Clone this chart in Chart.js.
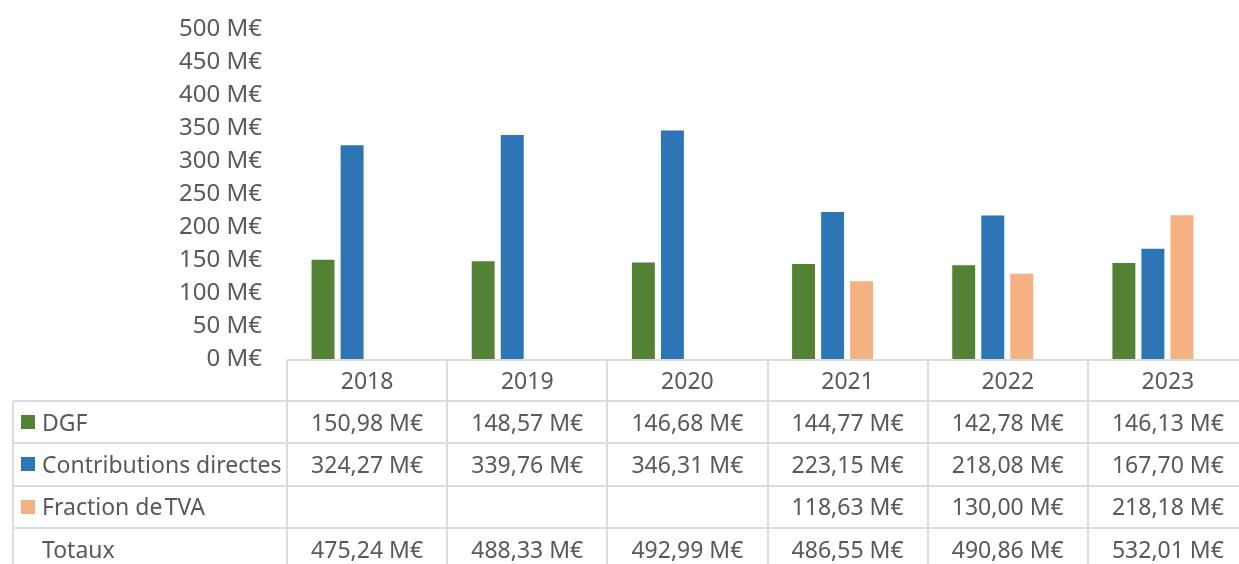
<!DOCTYPE html>
<html lang="fr">
<head>
<meta charset="utf-8">
<script src="https://cdn.jsdelivr.net/npm/chart.js@4.4.1/dist/chart.umd.min.js"></script>
<style>
  html, body { margin: 0; padding: 0; background: #fff; overflow: hidden; }
  body { width: 1239px; height: 564px; position: relative; font-family: "Noto Sans", sans-serif; color: #595959; }
  #chartBox { position: absolute; left: 0; top: 0; width: 1239px; height: 384px; }
  #dataTable { position: absolute; left: 0; top: 0; }
  .cell {
    position: absolute; box-sizing: border-box; font-size: 23px; line-height: 1;
    display: flex; align-items: center; justify-content: center; white-space: nowrap;
  }
  .cell.name { justify-content: flex-start; padding-left: 29px; }
  .key { position: absolute; left: 8px; width: 14px; height: 14px; top: 50%; margin-top: -7px; }
  .hline { position: absolute; height: 2px; background: #dcdcdc; }
  .vline { position: absolute; width: 2px; background: #dcdcdc; }
</style>
</head>
<body>
<div id="chartBox"><canvas id="recettesChart"></canvas></div>
<div id="dataTable"></div>

<script>
// données (M€)
const annees = ["2018", "2019", "2020", "2021", "2022", "2023"];
const dgf = [150.98, 148.57, 146.68, 144.77, 142.78, 146.13];
const contributions = [324.27, 339.76, 346.31, 223.15, 218.08, 167.70];
const fractionTva = [null, null, null, 118.63, 130.00, 218.18];
const totaux = [475.24, 488.33, 492.99, 486.55, 490.86, 532.01];
const seriesNoms = ["DGF", "Contributions directes", "Fraction de\u200ATVA"];
const couleurs = ["#548235", "#2E75B6", "#F4B183"];
const graduations = [0, 50, 100, 150, 200, 250, 300, 350, 400, 450, 500];

const police = "'Noto Sans', sans-serif";

function formatME(v) {
  return v.toFixed(2).replace(".", ",") + " M€";
}

const chart = new Chart(document.getElementById("recettesChart"), {
  type: "bar",
  data: {
    labels: annees,
    datasets: [
      { label: seriesNoms[0], data: dgf, backgroundColor: couleurs[0] },
      { label: seriesNoms[1], data: contributions, backgroundColor: couleurs[1] },
      { label: seriesNoms[2], data: fractionTva, backgroundColor: couleurs[2] },
    ],
  },
  options: {
    responsive: true,
    maintainAspectRatio: false,
    animation: false,
    layout: { padding: { top: 29, right: 6, bottom: 14, left: 0 } },
    datasets: {
      bar: { categoryPercentage: 0.544, barPercentage: 0.79 },
    },
    plugins: {
      legend: { display: false },
      tooltip: { enabled: false },
    },
    scales: {
      x: { display: false },
      y: {
        min: graduations[0],
        max: graduations[graduations.length - 1],
        afterBuildTicks: function (scale) {
          scale.ticks = graduations.map(function (v) { return { value: v }; });
        },
        afterFit: function (scale) {
          scale.width = 272; // largeur fixe de la colonne des graduations
        },
        grid: { display: false, drawTicks: false },
        border: { display: false },
        ticks: {
          color: "#595959",
          padding: 10,
          font: { family: police, size: 24 },
          callback: function (v) { return v + " M€"; },
        },
      },
    },
  },
});

// tableau de données sous le graphique, aligné sur l'axe des catégories
function construireTableau() {
  const box = document.getElementById("dataTable");
  box.innerHTML = "";
  const xs = chart.scales.x;
  const yBase = Math.round(chart.scales.y.getPixelForValue(0));
  const colW = xs.width / annees.length;
  const decal = 15;
  const gauche = 13;
  const firstX = xs.left + decal;
  const hauteurEntete = 41;
  const hauteurLigne = 42.3;
  const finX = firstX + colW * annees.length;

  function add(cls, style, html) {
    const d = document.createElement("div");
    d.className = cls;
    Object.assign(d.style, style);
    if (html !== undefined) d.innerHTML = html;
    box.appendChild(d);
    return d;
  }

  // lignes horizontales
  add("hline", { left: firstX + "px", top: yBase - 1 + "px", width: finX - firstX + "px" });
  const lignes = [
    { nom: seriesNoms[0], vals: dgf, coul: couleurs[0] },
    { nom: seriesNoms[1], vals: contributions, coul: couleurs[1] },
    { nom: seriesNoms[2], vals: fractionTva, coul: couleurs[2] },
    { nom: "Totaux", vals: totaux, coul: null },
  ];
  for (let r = 0; r <= lignes.length; r++) {
    const y = yBase + hauteurEntete + r * hauteurLigne;
    add("hline", { left: gauche + "px", top: y - 1 + "px", width: finX - gauche + "px" });
  }
  const bas = yBase + hauteurEntete + lignes.length * hauteurLigne + 10;

  // lignes verticales
  add("vline", { left: gauche - 1 + "px", top: yBase + hauteurEntete + "px", height: bas + "px" });
  for (let c = 0; c <= annees.length; c++) {
    const x = firstX + c * colW;
    add("vline", { left: x - 1 + "px", top: yBase + "px", height: bas + "px" });
  }

  // en-têtes des années
  annees.forEach(function (a, c) {
    add("cell", {
      left: firstX + c * colW + "px", top: yBase + "px",
      width: colW + "px", height: hauteurEntete + "px",
    }, a);
  });

  // lignes de valeurs
  lignes.forEach(function (l, r) {
    const top = yBase + hauteurEntete + r * hauteurLigne;
    const nom = add("cell name", {
      left: gauche + "px", top: top + "px",
      width: firstX - gauche + "px", height: hauteurLigne + "px",
    }, l.nom);
    if (l.coul) {
      const k = document.createElement("span");
      k.className = "key";
      k.style.background = l.coul;
      nom.appendChild(k);
    }
    l.vals.forEach(function (v, c) {
      add("cell", {
        left: firstX + c * colW + "px", top: top + "px",
        width: colW + "px", height: hauteurLigne + "px",
      }, v === null ? "" : formatME(v));
    });
  });
}

construireTableau();
</script>
</body>
</html>
